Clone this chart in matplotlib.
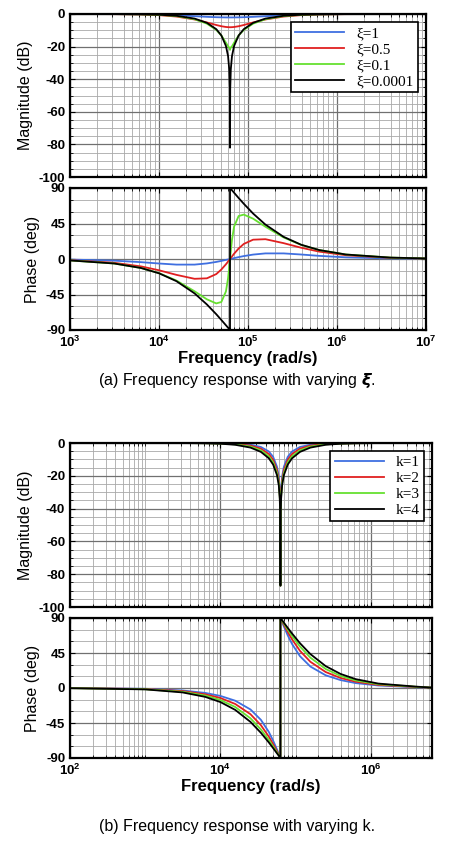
import matplotlib
matplotlib.use("Agg")
import matplotlib.pyplot as plt
from matplotlib.ticker import LogLocator, MultipleLocator, NullFormatter

# ---------- data ----------
freq_a = [1e3, 3.14e3, 6.28e3, 1e4, 1.57e4, 2.51e4, 3.45e4, 4.40e4, 5.02e4, 5.65e4, 5.97e4, 6.15e4, 6.25e4, 62794,
          62806, 63116, 64082, 66105, 69778, 78500, 89714, 114182, 157000, 251200, 394969, 628000, 1256000, 3949686, 1e7]
labels_a = ["ξ=1", "ξ=0.5", "ξ=0.1", "ξ=0.0001"]
mag_a_half = [
    [0, -0.05, -0.17, -0.39, -0.77, -1.35, -1.74, -1.97, -2.05, -2.09, -2.10, -2.11, -2.11, -2.11],
    [0, -0.08, -0.29, -0.70, -1.57, -3.35, -5.18, -6.75, -7.51, -7.96, -8.07, -8.11, -8.11, -8.11],
    [0, -0.05, -0.21, -0.52, -1.27, -3.18, -5.92, -9.74, -13.17, -17.6, -19.8, -20.65, -20.8, -22.0],
    [0, -0.04, -0.17, -0.44, -1.09, -2.80, -5.42, -9.31, -13.16, -19.6, -25.8, -33.9, -46.0, -82.0],
]
ph_a_half = [
    [-0.7, -2.1, -4.0, -5.7, -7.1, -7.1, -5.6, -3.7, -2.4, -1.1, -0.6, -0.2, 0.0, 0.0],
    [-1.5, -4.8, -9.4, -14.3, -20.1, -25.1, -24.5, -19.1, -13.3, -6.7, -3.3, -1.3, -0.3, 0.0],
    [-1.8, -5.7, -11.4, -17.9, -27.3, -40.9, -51.1, -56.3, -54.5, -41.1, -24.5, -10.4, -2.6, 0.0],
    [-1.8, -5.7, -11.4, -18.1, -28.1, -43.6, -57.6, -70.0, -77.3, -84.0, -87.1, -88.8, -89.7, -90.0],
]

freq_b = [1e2, 1e3, 3.14e3, 6.28e3, 1e4, 1.57e4, 2.51e4, 3.45e4, 4.40e4, 5.02e4, 5.65e4, 5.97e4, 6.15e4, 6.25e4, 62794,
          62806, 63116, 64082, 66105, 69778, 78500, 89714, 114182, 157000, 251200, 394969, 628000, 1256000, 3949686, 6.5e6]
labels_b = ["k=1", "k=2", "k=3", "k=4"]
mag_b_half = [
    [0, 0, -0.01, -0.05, -0.14, -0.36, -1.05, -2.43, -5.16, -8.43, -14.5, -20.6, -28.7, -40.8, -87],
    [0, 0, -0.02, -0.09, -0.22, -0.57, -1.60, -3.46, -6.71, -10.28, -16.5, -22.7, -30.8, -42.9, -87],
    [0, 0, -0.03, -0.13, -0.32, -0.81, -2.19, -4.47, -8.09, -11.83, -18.2, -24.4, -32.5, -44.6, -87],
    [0, 0, -0.04, -0.17, -0.44, -1.09, -2.80, -5.42, -9.31, -13.16, -19.6, -25.8, -33.9, -46.0, -87],
]
ph_b_half = [
    [-0.1, -1.0, -3.2, -6.3, -10.2, -16.3, -27.6, -40.9, -56.5, -67.7, -79.1, -84.7, -87.9, -89.5, -90],
    [-0.1, -1.3, -4.0, -8.1, -12.9, -20.5, -33.7, -47.8, -62.5, -72.2, -81.4, -85.8, -88.4, -89.6, -90],
    [-0.2, -1.6, -4.9, -9.7, -15.5, -24.4, -39.0, -53.3, -66.8, -75.2, -82.9, -86.6, -88.6, -89.7, -90],
    [-0.2, -1.8, -5.7, -11.4, -18.1, -28.1, -43.6, -57.6, -70.0, -77.3, -84.0, -87.1, -88.8, -89.7, -90],
]
colors = ["#3f6fe0", "#e02020", "#66e030", "black"]


def mirror(half, end_val):
    return half + half[::-1] + [end_val]


def mirror_b(half, end_val):
    h = half[1:]
    return [half[0]] + h + h[::-1] + [end_val]

# ---------- figure ----------
W, H = 474, 841
fig = plt.figure(figsize=(W / 100, H / 100), dpi=100)
plt.rcParams['font.family'] = ['Liberation Sans', 'DejaVu Sans']
plt.rcParams['axes.unicode_minus'] = False


def ax_at(l, t, r, b):
    return fig.add_axes([l / W, 1 - b / H, (r - l) / W, (b - t) / H])


def style(ax, xlim):
    ax.set_xscale('log')
    ax.set_xlim(*xlim)
    ax.xaxis.set_major_locator(LogLocator(base=10, numticks=20))
    ax.xaxis.set_minor_locator(LogLocator(base=10, subs=range(2, 10), numticks=100))
    ax.xaxis.set_minor_formatter(NullFormatter())
    ax.grid(True, which='major', color='#707070', lw=0.9)
    ax.grid(True, which='minor', color='#a8a8a8', lw=0.6)
    for s in ax.spines.values():
        s.set_linewidth(1.6)
    ax.tick_params(which='both', direction='in', top=True, right=True, labelsize=9.5)


def bold_labels(ax):
    for lab in ax.get_yticklabels() + ax.get_xticklabels():
        lab.set_fontweight('bold')


def mag_axes(ax):
    ax.set_ylim(-100, 0)
    ax.yaxis.set_major_locator(MultipleLocator(20))
    ax.yaxis.set_minor_locator(MultipleLocator(5))
    ax.set_ylabel("Magnitude (dB)", fontsize=11.5)


def ph_axes(ax):
    ax.set_ylim(-90, 90)
    ax.set_yticks([-90, -45, 0, 45, 90])
    ax.yaxis.set_minor_locator(MultipleLocator(15))
    ax.set_ylabel("Phase (deg)", fontsize=11.5)


leg_font = dict(family='Liberation Serif', size=11)

# (a)
a1 = ax_at(70, 14, 426, 177)
a2 = ax_at(70, 188, 426, 330)
for i in range(4):
    a1.plot(freq_a, mirror(mag_a_half[i], 0), color=colors[i], lw=1.3, label=labels_a[i])
    ph = ph_a_half[i]
    a2.plot(freq_a, ph + [-v for v in ph[::-1]] + [0.7], color=colors[i], lw=1.3)
for ax in (a1, a2):
    style(ax, (1e3, 1e7))
mag_axes(a1); ph_axes(a2)
a1.set_xticklabels([])
bold_labels(a1); bold_labels(a2)
a2.set_xlabel("Frequency (rad/s)", fontsize=12, fontweight='bold', labelpad=1)
leg = a1.legend(loc='upper right', prop=leg_font, fancybox=False, edgecolor='black',
                framealpha=1, borderpad=0.3, labelspacing=0.15, handlelength=3.2)
leg.get_frame().set_linewidth(1.2)
fig.text(237 / W, 1 - 381 / H, "(a) Frequency response with varying $\\boldsymbol{\\xi}$.", ha='center', va='center', fontsize=11.5)

# (b)
b1 = ax_at(70, 443, 432, 607)
b2 = ax_at(70, 618, 432, 758)
for i in range(4):
    b1.plot(freq_b, mirror_b(mag_b_half[i], 0), color=colors[i], lw=1.3, label=labels_b[i])
    ph = ph_b_half[i]
    h = ph[1:]
    b2.plot(freq_b, [ph[0]] + h + [-v for v in h[::-1]] + [0.5], color=colors[i], lw=1.3)
for ax in (b1, b2):
    style(ax, (1e2, 1e7 * 0.65))
    ax.set_xticks([1e2, 1e4, 1e6])
    ax.xaxis.set_minor_locator(LogLocator(base=10, subs=range(1, 10), numticks=100))
mag_axes(b1); ph_axes(b2)
b1.set_xticklabels([])
bold_labels(b1); bold_labels(b2)
b2.set_xlabel("Frequency (rad/s)", fontsize=12, fontweight='bold', labelpad=1)
leg = b1.legend(loc='upper right', prop=leg_font, fancybox=False, edgecolor='black',
                framealpha=1, borderpad=0.3, labelspacing=0.15, handlelength=3.2)
leg.get_frame().set_linewidth(1.2)
fig.text(237 / W, 1 - 826 / H, "(b) Frequency response with varying k.", ha='center', va='center', fontsize=11.5)

fig.savefig("out.png", dpi=100)
